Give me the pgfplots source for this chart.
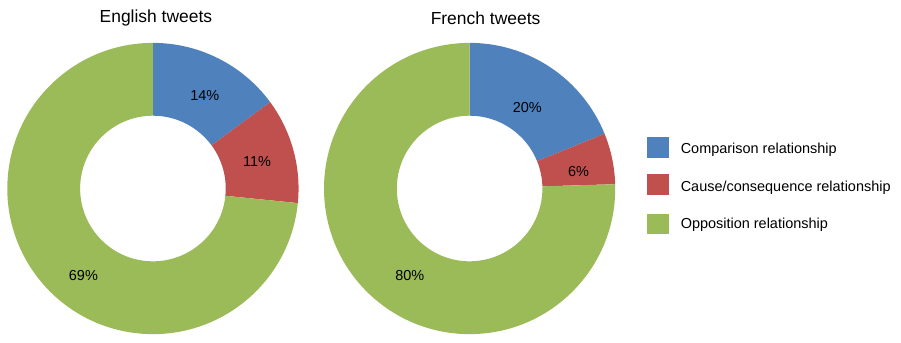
\documentclass[border=0pt]{standalone}
\usepackage{pgfplots}
\pgfplotsset{compat=1.18}
\usepackage{pgfplotstable}
\usepackage{fontspec}
\setmainfont{Liberation Sans}
\definecolor{cblue}{HTML}{4F81BD}
\definecolor{cred}{HTML}{C0504D}
\definecolor{cgreen}{HTML}{9BBB59}

\pgfplotstableread{
label value
Comparison 14
Cause 11
Opposition 69
}\english
\pgfplotstableread{
label value
Comparison 20
Cause 6
Opposition 80
}\french

% compute slice boundary angles (clockwise from 90 deg)
\newcommand\getangles[2]{%
  \pgfplotstablegetelem{0}{value}\of#1\let\va\pgfplotsretval
  \pgfplotstablegetelem{1}{value}\of#1\let\vb\pgfplotsretval
  \pgfplotstablegetelem{2}{value}\of#1\let\vc\pgfplotsretval
  \pgfmathsetmacro\tot{\va+\vb+\vc}%
  \pgfmathsetmacro\aone{90-360*\va/\tot}%
  \pgfmathsetmacro\atwo{\aone-360*\vb/\tot}%
  \expandafter\xdef\csname #2A\endcsname{\aone}%
  \expandafter\xdef\csname #2B\endcsname{\atwo}%
}
\getangles{\english}{en}
\getangles{\french}{fr}

\newcommand\sector[7]{% color, cx, cy, a1, a2, R, r
  \fill[#1] ([shift={(#4:#6)}]axis cs:#2,#3) arc[start angle=#4,end angle=#5,radius=#6]
    -- ([shift={(#5:#7)}]axis cs:#2,#3) arc[start angle=#5,end angle=#4,radius=#7] -- cycle;
}

\begin{document}
\begin{tikzpicture}
\begin{axis}[
  x=1pt, y=1pt,
  xmin=0, xmax=901, ymin=0, ymax=343,
  hide axis, clip=false,
]
\addplot[draw=none] coordinates {(0,0) (901,343)};
% English donut
\sector{cblue}{151}{154}{90}{\enA}{146}{73}
\sector{cred}{151}{154}{\enA}{\enB}{146}{73}
\sector{cgreen}{151}{154}{\enB}{-270}{146}{73}
% French donut
\sector{cblue}{468.5}{154}{90}{\frA}{146}{73}
\sector{cred}{468.5}{154}{\frA}{\frB}{146}{73}
\sector{cgreen}{468.5}{154}{\frB}{-270}{146}{73}

% titles
\node[font=\fontsize{17.5}{20}\selectfont] at (axis cs:154,325) {English tweets};
\node[font=\fontsize{17.5}{20}\selectfont] at (axis cs:484.5,325) {French tweets};

% labels
\begin{scope}[every node/.style={font=\fontsize{14.5}{16}\selectfont}]
\node at (axis cs:203,247.3) {14\%};
\node at (axis cs:255.3,181.3) {11\%};
\node at (axis cs:81.3,66.3) {69\%};
\node at (axis cs:526.3,234.7) {20\%};
\node at (axis cs:577.8,171.3) {6\%};
\node at (axis cs:408.5,67) {80\%};
\end{scope}

% legend
\fill[cblue] (axis cs:646.7,184.7) rectangle (axis cs:668.3,205.7);
\fill[cred] (axis cs:646.7,147.3) rectangle (axis cs:668.3,168.7);
\fill[cgreen] (axis cs:646.7,108) rectangle (axis cs:668.3,128.7);
\begin{scope}[every node/.style={font=\fontsize{14.5}{17}\selectfont, anchor=west, inner sep=0pt}]
\node at (axis cs:680,193) {Comparison relationship};
\node at (axis cs:680,155) {Cause/consequence relationship};
\node at (axis cs:680,118) {Opposition relationship};
\end{scope}
\end{axis}
\end{tikzpicture}
\end{document}
